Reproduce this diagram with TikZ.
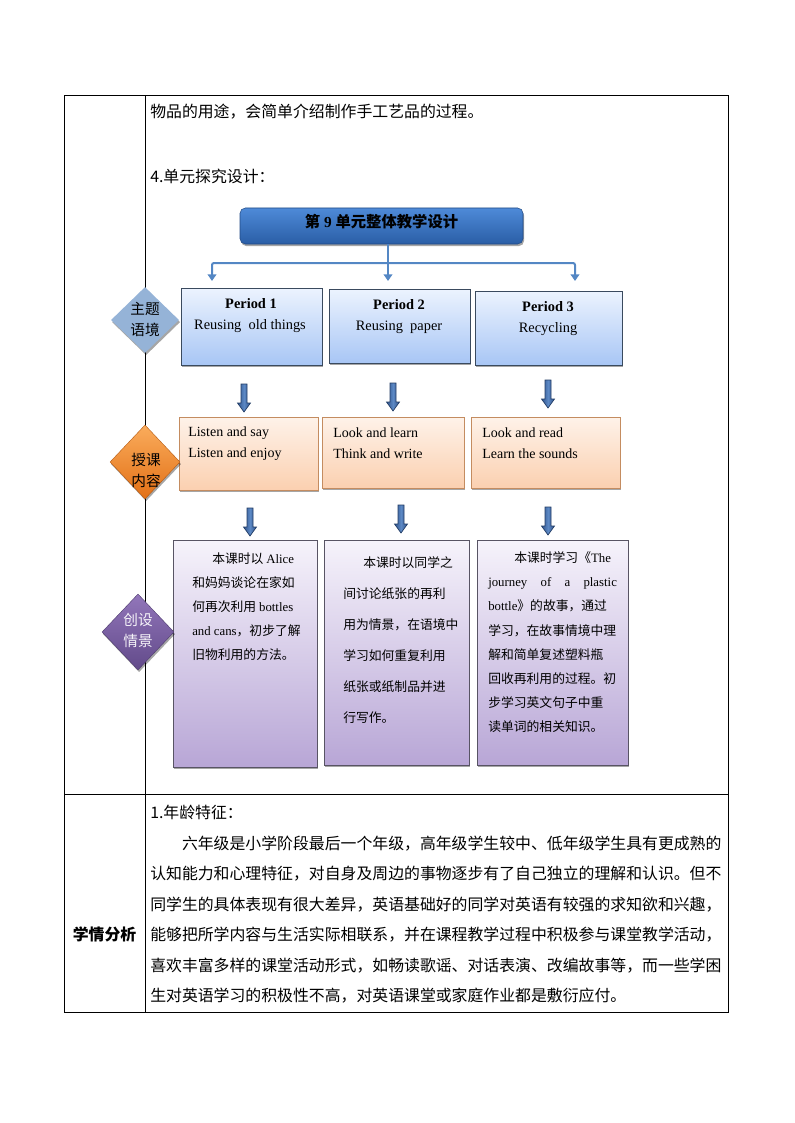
\documentclass[tikz,border=0pt]{standalone}
\usepackage{fontspec}
\setmainfont{Liberation Serif}
\newfontfamily\cjk{Noto Sans CJK SC}
\usetikzlibrary{shapes.geometric,shadows,arrows.meta}
\definecolor{titletop}{RGB}{78,138,216}
\definecolor{titlebot}{RGB}{42,94,166}
\definecolor{connblue}{RGB}{84,135,196}
\definecolor{ptop}{RGB}{236,243,254}
\definecolor{pbot}{RGB}{168,198,245}
\definecolor{pborder}{RGB}{58,74,94}
\definecolor{diaone}{RGB}{149,179,215}
\definecolor{ctop}{RGB}{254,242,233}
\definecolor{cbot}{RGB}{251,208,176}
\definecolor{cborder}{RGB}{196,140,96}
\definecolor{diatwotop}{RGB}{250,172,92}
\definecolor{diatwobot}{RGB}{226,112,22}
\definecolor{dtop}{RGB}{246,243,251}
\definecolor{dbot}{RGB}{184,166,214}
\definecolor{dborder}{RGB}{88,84,100}
\definecolor{diathreetop}{RGB}{146,118,186}
\definecolor{diathreebot}{RGB}{98,74,138}
\definecolor{arrblue}{RGB}{48,84,140}
\definecolor{arrlight}{RGB}{92,136,196}
\definecolor{arrdark}{RGB}{34,60,100}
\tikzset{
  pics/blkarrow/.style={code={
    \draw[blkarrowstyle] (-3,0) -- (-3,19) -- (-6.5,19) -- (0,28) -- (6.5,19) -- (3,19) -- (3,0) -- cycle;}},
  blkarrowstyle/.style={draw=arrdark, line width=0.5pt, left color=arrblue, right color=arrblue, middle color=arrlight},
  tline/.style={line width=0.75pt, draw=black},
  bodytext/.style={inner sep=0pt, font=\cjk\fontsize{11.9}{22.85}\selectfont},
  boxshadow/.style={drop shadow={shadow xshift=0.8pt, shadow yshift=-1.6pt, opacity=0.35, fill=black}},
  titlebox/.style={rounded corners=4pt, draw=titlebot!80!black, line width=0.4pt, top color=titletop, bottom color=titlebot, minimum width=212.25pt, minimum height=27pt, inner sep=0pt, text depth=7pt, boxshadow, font=\bfseries\fontsize{11.5}{13}\selectfont},
  conn/.style={draw=connblue, line width=1.5pt, rounded corners=1.5pt},
  conntip/.style={conn, -{Triangle[width=6.5pt,length=5pt]}},
  pbox/.style={draw=pborder, line width=0.6pt, top color=ptop, bottom color=pbot, inner sep=0pt, boxshadow},
  cbox/.style={draw=cborder, line width=0.6pt, top color=ctop, bottom color=cbot, inner sep=0pt, boxshadow},
  dbox/.style={draw=dborder, line width=0.6pt, top color=dtop, bottom color=dbot, inner sep=0pt, boxshadow},
  ptitle/.style={inner sep=0pt, font=\bfseries\fontsize{10.8}{12}\selectfont},
  psub/.style={inner sep=0pt, font=\fontsize{10.8}{12}\selectfont},
  ctext/.style={inner sep=0pt, anchor=west, font=\fontsize{10.5}{12}\selectfont},
  diashape/.style={diamond, aspect=1, inner sep=0pt, boxshadow},
  diatext/.style={inner sep=0pt, align=center, font=\cjk\fontsize{11}{15.75}\selectfont},
  dtext/.style={inner sep=0pt, anchor=north west, align=left}
}
\begin{document}
\begin{tikzpicture}[x=0.75pt,y=-0.75pt]
\useasboundingbox (0,0) rectangle (794,1123);
% table
\draw[tline] (64,96) rectangle (728,1012);
\draw[tline] (145,96) -- (145,1012);
\draw[tline] (64,794) -- (728,794);
% intro texts
\node[bodytext, anchor=west] (intro) at (150,112) {物品的用途，会简单介绍制作手工艺品的过程。};
\node[bodytext, anchor=west] (sec4) at (150,176) {4.单元探究设计：};
% title
\node[titlebox] (title) at (381.5,226) {{\cjk 第} 9 {\cjk 单元整体教学设计}};
% connectors
\coordinate (j) at (388,263);
\coordinate (e1) at (212,281);
\coordinate (e2) at (388,281);
\coordinate (e3) at (575,281);
\draw[conn] (title.south -| j) -- (j);
\draw[conntip] (j) -| (e1);
\draw[conntip] (j) -| (e3);
\draw[conntip] (j) -- (e2);
% period boxes
\node[pbox, minimum width=105.75pt, minimum height=57.75pt] (p1) at (251.5,326.5) {};
\node[pbox, minimum width=105.75pt, minimum height=55.5pt] (p2) at (399.5,326) {};
\node[pbox, minimum width=110.25pt, minimum height=55.5pt] (p3) at (548.5,328) {};
\node[ptitle] (p1a) at (251,304) {Period 1};
\node[psub] (p1b) at (250,326) {Reusing\ \ old things};
\node[ptitle] (p2a) at (399,305) {Period 2};
\node[psub] (p2b) at (399,327) {Reusing\ \ paper};
\node[ptitle] (p3a) at (548,307) {Period 3};
\node[psub] (p3b) at (548,329) {Recycling};
% diamond 1
\node[diashape, fill=diaone, minimum width=51pt, minimum height=49.5pt] (dia1) at (145,320) {};
\node[diatext] (dia1t) at (145,319) {主题\\语境};
% block arrows row 1
\pic (a1) at (244,384) {blkarrow};
\pic (a2) at (393,383) {blkarrow};
\pic (a3) at (548,380) {blkarrow};
% content boxes
\node[cbox, minimum width=104.25pt, minimum height=54.75pt] (c1) at (248.5,453.5) {};
\node[cbox, minimum width=106.5pt, minimum height=53.25pt] (c2) at (393,452.5) {};
\node[cbox, minimum width=111.75pt, minimum height=53.25pt] (c3) at (545.5,452.5) {};
\node[ctext] (c1a) at (188,433) {Listen and say};
\node[ctext] (c1b) at (188,454) {Listen and enjoy};
\node[ctext] (c2a) at (333,433) {Look and learn};
\node[ctext] (c2b) at (333,454) {Think and write};
\node[ctext] (c3a) at (482,433) {Look and read};
\node[ctext] (c3b) at (482,454) {Learn the sounds};
% diamond 2
\node[diashape, draw=diatwobot!80!black, line width=0.3pt, top color=diatwotop, bottom color=diatwobot, minimum width=52.5pt, minimum height=55.5pt] (dia2) at (145,462) {};
\node[diatext] (dia2t) at (146,470) {授课\\内容};
% block arrows row 2
\pic (b1) at (250,508) {blkarrow};
\pic (b2) at (401,505) {blkarrow};
\pic (b3) at (548,507) {blkarrow};
% purple boxes
\node[dbox, minimum width=108pt, minimum height=170.25pt] (d1) at (245,653.5) {};
\node[dbox, minimum width=108.75pt, minimum height=168.75pt] (d2) at (396.5,652.5) {};
\node[dbox, minimum width=113.25pt, minimum height=168.75pt] (d3) at (552.5,652.5) {};
\node[dtext, font=\cjk\fontsize{9.6}{18}\selectfont] (d1t) at (192,552.5) {%
\hspace*{15pt}本课时以 {\rmfamily Alice}\\
和妈妈谈论在家如\\
何再次利用 {\rmfamily bottles}\\
{\rmfamily and~cans}，初步了解\\
旧物利用的方法。};
\node[dtext, font=\cjk\fontsize{9.6}{23.25}\selectfont] (d2t) at (343,556.5) {%
\hspace*{15pt}本课时以同学之\\
间讨论纸张的再利\\
用为情景，在语境中\\
学习如何重复利用\\
纸张或纸制品并进\\
行写作。};
\node[dtext, font=\cjk\fontsize{9.6}{18.1}\selectfont] (d3t) at (488,551.5) {%
\hspace*{19.5pt}本课时学习《{\rmfamily The}\\
\makebox[96.5pt]{\rmfamily journey\hfill of\hfill a\hfill plastic}\\
{\rmfamily bottle}》的故事，通过\\
学习，在故事情境中理\\
解和简单复述塑料瓶\\
回收再利用的过程。初\\
步学习英文句子中重\\
读单词的相关知识。};
% diamond 3
\node[diashape, draw=diathreebot!80!black, line width=0.3pt, top color=diathreetop, bottom color=diathreebot, minimum width=54pt, minimum height=57pt] (dia3) at (138,632) {};
\node[diatext, text=white!92!diathreetop] (dia3t) at (138,630) {创设\\情景};
% bottom row
\node[bodytext, font=\cjk\bfseries\fontsize{11.9}{14}\selectfont] (xq) at (104.5,934) {学情分析};
\node[bodytext, anchor=north west, text width=432pt, align=left] (analysis) at (150,805) {%
1.年龄特征：\\
\hspace*{2em}六年级是小学阶段最后一个年级，高年级学生较中、低年级学生具有更成熟的\\
认知能力和心理特征，对自身及周边的事物逐步有了自己独立的理解和认识。但不\\
同学生的具体表现有很大差异，英语基础好的同学对英语有较强的求知欲和兴趣，\\
能够把所学内容与生活实际相联系，并在课程教学过程中积极参与课堂教学活动，\\
喜欢丰富多样的课堂活动形式，如畅读歌谣、对话表演、改编故事等，而一些学困\\
生对英语学习的积极性不高，对英语课堂或家庭作业都是敷衍应付。};
\end{tikzpicture}
\end{document}
